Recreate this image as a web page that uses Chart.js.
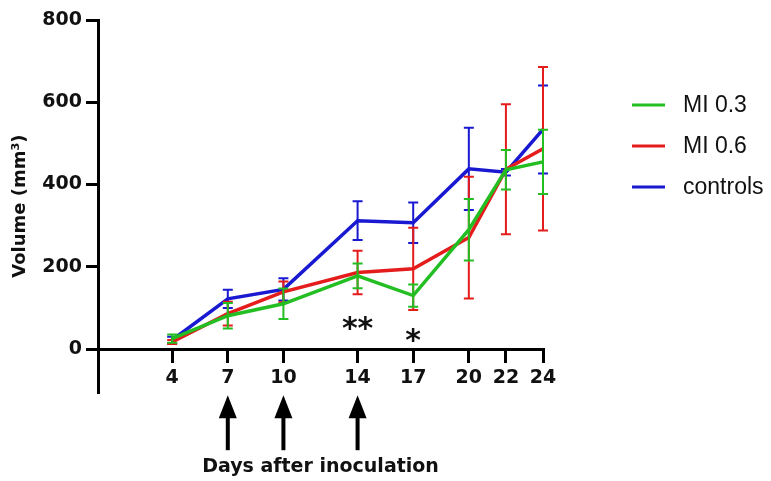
<!DOCTYPE html>
<html>
<head>
<meta charset="utf-8">
<title>Tumour volume after inoculation</title>
<script src="https://cdn.jsdelivr.net/npm/chart.js@4.4.0/dist/chart.umd.min.js"></script>
<style>
  body { margin: 0; background: #fff; }
  .chart-box { width: 771px; height: 481px; }
</style>
</head>
<body>
<div class="chart-box"><canvas id="volumeChart"></canvas></div>
<script>
// values (mean and error bar half-length, mm3)
const days = [4, 7, 10, 14, 17, 20, 22, 24];
const yTicks = [0, 200, 400, 600, 800];
const mi03 = [25, 81, 110, 178, 130, 290, 436, 455];
const mi03Err = [10, 31, 37, 30, 27, 75, 48, 78];
const mi06 = [17, 86, 139, 186, 195, 271, 437, 487];
const mi06Err = [5, 29, 25, 53, 100, 148, 158, 199];
const controls = [22, 122, 145, 312, 307, 438, 430, 534];
const controlsErr = [8, 22, 27, 47, 49, 100, 8, 107];
const seriesNames = ['MI 0.3', 'MI 0.6', 'controls'];
const arrowDays = [7, 10, 14];
const starDays = [14, 17];
const starLabels = ['**', '*'];

const colors = ['rgb(34, 190, 34)', 'rgb(228, 28, 28)', 'rgb(25, 25, 210)'];
const boldFont = 'DejaVu Sans';

function makeSet(name, vals, errs, color) {
  return {
    label: name,
    data: days.map((d, i) => ({ x: d, y: vals[i] })),
    errors: errs,
    borderColor: color,
    backgroundColor: color,
    borderWidth: 3.5,
    pointRadius: 0,
    tension: 0,
    clip: false
  };
}

const extras = {
  id: 'extras',
  afterDatasetDraw(chart, args) {
    const ds = chart.data.datasets[args.index];
    const y = chart.scales.y;
    const ctx = chart.ctx;
    ctx.save();
    ctx.strokeStyle = ds.borderColor;
    ctx.lineWidth = 2;
    args.meta.data.forEach((pt, k) => {
      const v = ds.data[k].y;
      const top = y.getPixelForValue(v + ds.errors[k]);
      const bot = y.getPixelForValue(v - ds.errors[k]);
      ctx.beginPath();
      ctx.moveTo(pt.x, top); ctx.lineTo(pt.x, bot);
      ctx.moveTo(pt.x - 5, top); ctx.lineTo(pt.x + 5, top);
      ctx.moveTo(pt.x - 5, bot); ctx.lineTo(pt.x + 5, bot);
      ctx.stroke();
    });
    ctx.restore();
  },
  afterDraw(chart) {
    const ctx = chart.ctx;
    const area = chart.chartArea;
    const x = chart.scales.x, y = chart.scales.y;
    ctx.save();
    // treatment arrows
    ctx.fillStyle = '#000';
    arrowDays.forEach(d => {
      const px = x.getPixelForValue(d);
      const tip = area.bottom + 3;
      ctx.beginPath();
      ctx.moveTo(px, tip);
      ctx.lineTo(px - 9, tip + 23);
      ctx.lineTo(px + 9, tip + 23);
      ctx.closePath();
      ctx.fill();
      ctx.fillRect(px - 2, tip + 20, 4, 35);
    });
    // significance marks
    ctx.font = 'bold 30px ' + boldFont;
    ctx.fillStyle = '#111';
    ctx.textAlign = 'center';
    ctx.textBaseline = 'alphabetic';
    const zero = y.getPixelForValue(0);
    starDays.forEach((d, i) => {
      const m = ctx.measureText(starLabels[i]);
      const target = zero - (i === 0 ? 26 : 14);
      ctx.fillText(starLabels[i], x.getPixelForValue(d), target + (m.actualBoundingBoxAscent - m.actualBoundingBoxDescent) / 2);
    });
    // legend
    ctx.font = '23px "Liberation Sans"';
    ctx.textAlign = 'left';
    ctx.textBaseline = 'middle';
    seriesNames.forEach((name, i) => {
      const ly = area.top + 85 + i * 41;
      const lx = area.right + 89;
      ctx.strokeStyle = colors[i];
      ctx.lineWidth = 3;
      ctx.beginPath();
      ctx.moveTo(lx, ly); ctx.lineTo(lx + 33, ly);
      ctx.stroke();
      ctx.fillStyle = '#111';
      ctx.fillText(name, lx + 51, ly + 1);
    });
    ctx.restore();
  }
};

new Chart(document.getElementById('volumeChart'), {
  type: 'line',
  data: {
    datasets: [
      makeSet(seriesNames[0], mi03, mi03Err, colors[0]),
      makeSet(seriesNames[1], mi06, mi06Err, colors[1]),
      makeSet(seriesNames[2], controls, controlsErr, colors[2])
    ]
  },
  options: {
    responsive: true,
    maintainAspectRatio: false,
    animation: false,
    layout: { padding: { left: 0, top: 20, right: 228, bottom: 0 } },
    plugins: {
      legend: { display: false },
      tooltip: { enabled: false },
      title: {
        display: true,
        position: 'bottom',
        fullSize: false,
        text: 'Days after inoculation',
        color: '#111',
        font: { family: boldFont, size: 19, weight: 'bold' },
        padding: { top: 63, bottom: 3 }
      }
    },
    scales: {
      x: {
        type: 'linear',
        position: { y: 0 },
        min: 0,
        max: 24,
        afterBuildTicks: s => { s.ticks = days.map(v => ({ value: v })); },
        grid: { display: true, drawOnChartArea: false, drawTicks: true, tickLength: 12, color: '#000', lineWidth: 3 },
        border: { display: true, color: '#000', width: 3 },
        ticks: { color: '#111', padding: 6, font: { family: boldFont, size: 19, weight: 'bold' } }
      },
      y: {
        type: 'linear',
        min: -105,
        max: 800,
        afterBuildTicks: s => { s.ticks = yTicks.map(v => ({ value: v })); },
        afterFit: s => { s.width = 98; },
        grid: { display: true, drawOnChartArea: false, drawTicks: true, tickLength: 12, color: '#000', lineWidth: 3 },
        border: { display: true, color: '#000', width: 3 },
        ticks: { color: '#111', padding: 4, font: { family: boldFont, size: 19, weight: 'bold' } },
        title: {
          display: true,
          text: 'Volume (mm³)',
          color: '#111',
          font: { family: boldFont, size: 18, weight: 'bold' },
          padding: { top: 10, bottom: 0 }
        }
      }
    }
  },
  plugins: [extras]
});
</script>
</body>
</html>
